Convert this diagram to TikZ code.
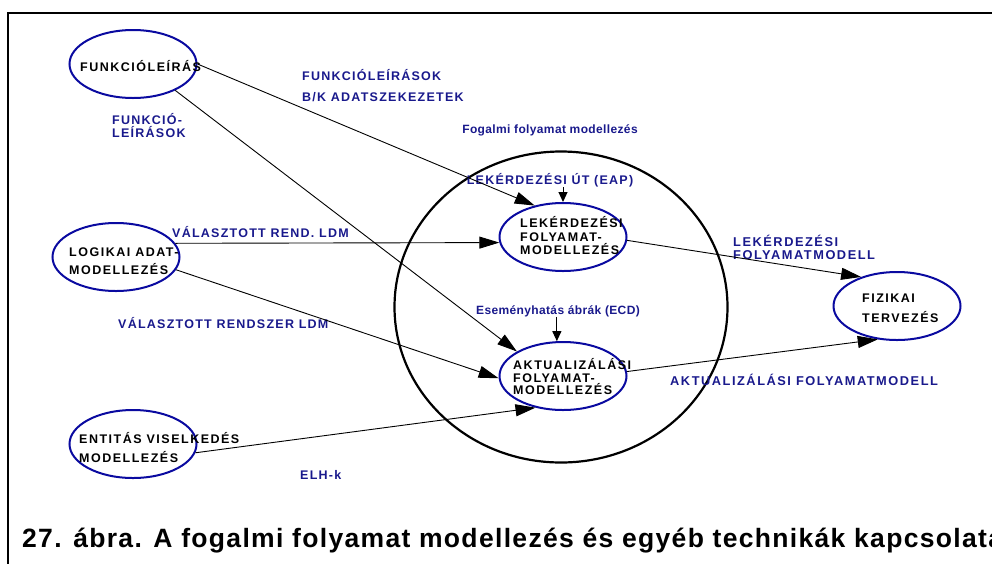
\documentclass[tikz,border=0pt]{standalone}
\usepackage{fontspec}
\usetikzlibrary{shapes.geometric,arrows.meta}
\setmainfont{Liberation Sans}
\newfontfamily\boxfont[LetterSpace=12]{Liberation Sans}
\newfontfamily\tagfont[LetterSpace=10]{Liberation Sans}
\newfontfamily\widetagfont[LetterSpace=12]{Liberation Sans}
\newfontfamily\smallfont[LetterSpace=3]{Liberation Sans}
\newfontfamily\capfont[LetterSpace=5]{Liberation Sans}
\definecolor{ellblue}{RGB}{10,10,160}
\definecolor{tagblue}{RGB}{25,25,140}
\tikzset{
  procbox/.style={ellipse, draw=ellblue, line width=2pt, minimum width=127pt,
    minimum height=68pt, inner sep=0pt},
  boxtext/.style={inner sep=0pt, align=left, anchor=west,
    font=\boxfont\bfseries\fontsize{12.5}{#1}\selectfont},
  boxtext/.default=13,
  tagtext/.style={inner sep=0pt, align=left, text=tagblue,
    font=\tagfont\bfseries\fontsize{12.5}{#1}\selectfont},
  tagtext/.default=13,
  widetag/.style={inner sep=0pt, align=left, text=tagblue,
    font=\widetagfont\bfseries\fontsize{12.8}{#1}\selectfont},
  widetag/.default=13,
  smalltag/.style={inner sep=0pt, text=tagblue,
    font=\smallfont\bfseries\fontsize{12}{14}\selectfont},
  conn/.style={line width=0.9pt, -{Triangle[length=20pt,width=12pt]}},
  tick/.style={line width=1pt, -{Triangle[length=10pt,width=9pt]}},
}
\begin{document}
\begin{tikzpicture}[x=1pt,y=-1pt]
\useasboundingbox (0,0) rectangle (992,563);
\clip (0,0) rectangle (992,563);
% outer frame, running past the right and bottom edges
\draw[line width=2.5pt] (8,13) rectangle (1010,590);

% conceptual process modelling boundary
\node[ellipse, draw, line width=2.2pt, minimum width=333pt, minimum height=311pt,
  inner sep=0pt] (fog) at (561,307) {};

% process ellipses
\node[procbox] (funk) at (133,64) {};
\node[procbox] (logik) at (116,257) {};
\node[procbox] (ent) at (133,444) {};
\node[procbox] (lek) at (563,237) {};
\node[procbox] (akt) at (563,376) {};
\node[procbox] (fiz) at (897,306) {};

% texts of the ellipses
\node[boxtext] (funkT) at (80,66) {FUNKCIÓLEÍRÁS};
\node[boxtext=18] (logikT) at (69,261) {LOGIKAI ADAT-\\MODELLEZÉS};
\node[boxtext=19] (entT) at (79,447.5) {ENTITÁS VISELKEDÉS\\MODELLEZÉS};
\node[boxtext=13.5] (lekT) at (520,236) {LEKÉRDEZÉSI\\FOLYAMAT-\\MODELLEZÉS};
\node[boxtext=12.5] (aktT) at (513,377) {AKTUALIZÁLÁSI\\FOLYAMAT-\\MODELLEZÉS};
\node[boxtext=20] (fizT) at (862,308) {FIZIKAI\\TERVEZÉS};

% connector labels
\node[tagtext=21, anchor=west] (lFunk) at (302,85.5) {FUNKCIÓLEÍRÁSOK\\B/K ADATSZEKEZETEK};
\node[tagtext=13, anchor=west] (lFunk2) at (112,125.5) {FUNKCIÓ-\\LEÍRÁSOK};
\node[smalltag] (lFog) at (550,130) {Fogalmi folyamat modellezés};
\node[tagtext] (eap) at (550,180) {LEKÉRDEZÉSI ÚT (EAP)};
\node[tagtext, anchor=west] (lRend) at (172,232) {VÁLASZTOTT REND. LDM};
\node[tagtext, anchor=west] (lRsz) at (118,323) {VÁLASZTOTT RENDSZER LDM};
\node[smalltag] (ecd) at (558,311) {Eseményhatás ábrák (ECD)};
\node[widetag=13, anchor=west] (lLek) at (733,247.5) {LEKÉRDEZÉSI\\FOLYAMATMODELL};
\node[widetag, anchor=west] (lAkt) at (670,380) {AKTUALIZÁLÁSI FOLYAMATMODELL};
\node[tagtext, anchor=west] (lElh) at (300,475) {ELH-k};

% connectors
\draw[conn] (funk.east) -- (lek.132);
\draw[conn] (funk.-32) -- (akt.152);
\draw[conn] (logik.13.4) -- (lek.185.4);
\draw[conn] (logik.-12.3) -- (akt.182);
\draw[conn] (ent.-8) -- (akt.229);
\draw[conn] (lek.-3) -- (fiz.141);
\draw[conn] (akt.4) -- (fiz.240);
\draw[tick] (eap.south -| lek.north) -- (lek.north);
\draw[tick] (ecd.south -| akt.100) -- (akt.100);

% caption
\node[anchor=base west, inner sep=0pt,
  font=\capfont\bfseries\fontsize{26.5}{30}\selectfont] (cap) at (22,547)
  {27. ábra. A fogalmi folyamat modellezés és egyéb technikák kapcsolata};
\end{tikzpicture}
\end{document}
